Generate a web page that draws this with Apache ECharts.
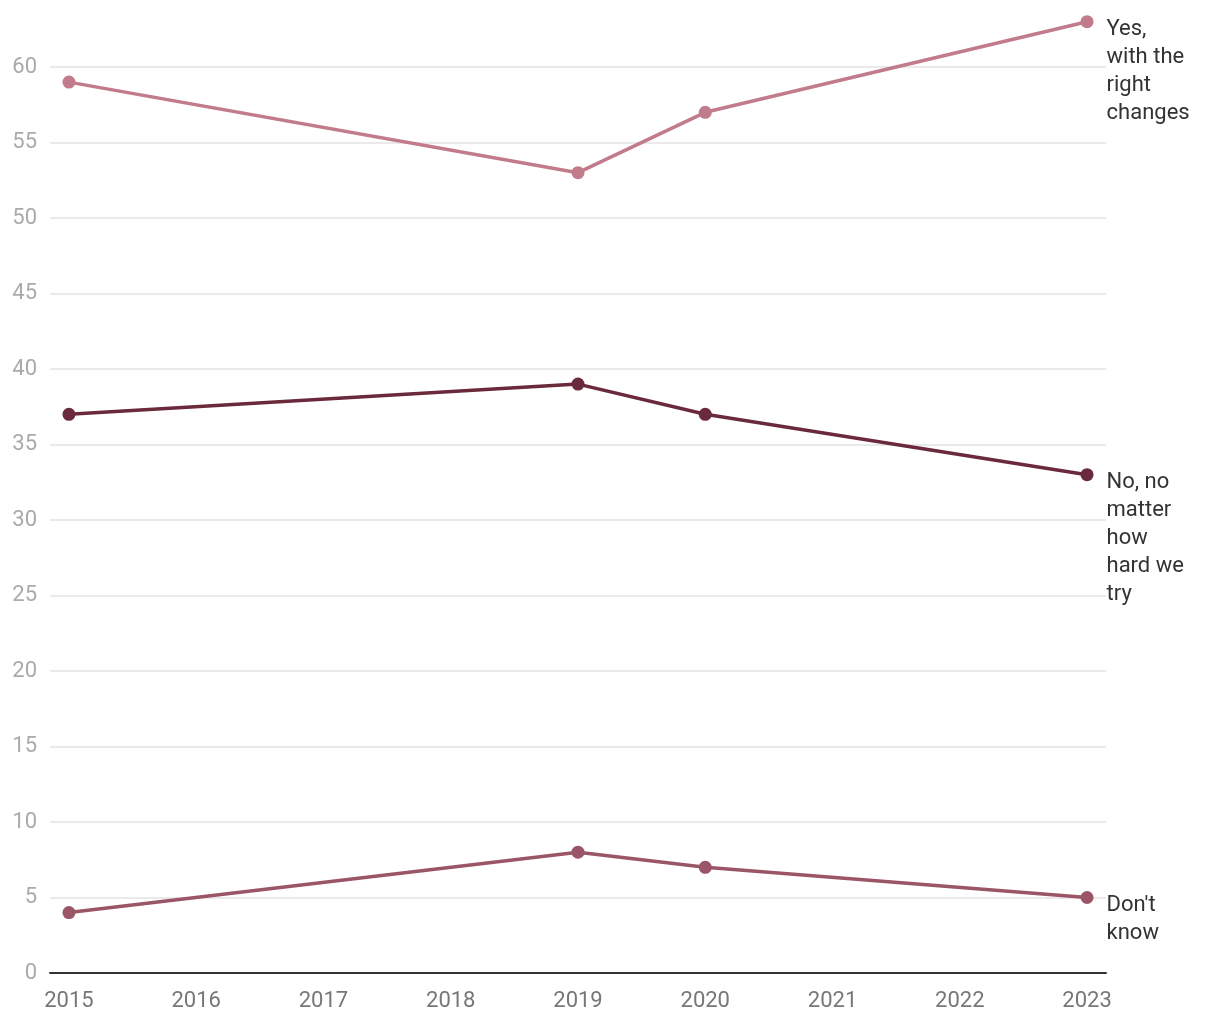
<!DOCTYPE html>
<html>
<head>
<meta charset="utf-8">
<script src="https://cdn.jsdelivr.net/npm/echarts@6/dist/echarts.min.js"></script>
<style>
html,body{margin:0;padding:0;background:#fff;}
#chart{width:1220px;height:1020px;}
</style>
</head>
<body>
<div id="chart"></div>
<script>
const years = [2015, 2019, 2020, 2023];
const yesValues = [59, 53, 57, 63];
const noValues = [37, 39, 37, 33];
const dkValues = [4, 8, 7, 5];
const seriesNames = ["Yes,\nwith the\nright\nchanges", "No, no\nmatter\nhow\nhard we\ntry", "Don't\nknow"];
const xTickYears = [2015, 2016, 2017, 2018, 2019, 2020, 2021, 2022, 2023];
const colors = ["#c27b8b", "#6a2a3b", "#9a5567"];
const FONT = "Roboto, 'Noto Sans', sans-serif";

function mkSeries(name, vals, color) {
  const data = vals.map((v, i) => {
    const item = { value: [years[i], v] };
    if (i === vals.length - 1) {
      item.label = {
        show: true,
        position: 'right',
        distance: 13,
        verticalAlign: 'top',
        align: 'left',
        offset: [0, -6],
        formatter: name,
        color: '#333',
        fontSize: 22,
        lineHeight: 28,
        fontFamily: FONT
      };
    }
    return item;
  });
  return {
    type: 'line',
    name: name,
    data: data,
    clip: false,
    symbol: 'circle',
    symbolSize: 13,
    lineStyle: { color: color, width: 3.5 },
    itemStyle: { color: color },
    label: { show: false },
    emphasis: { disabled: true },
    animation: false
  };
}

const chart = echarts.init(document.getElementById('chart'));
chart.setOption({
  backgroundColor: '#fff',
  animation: false,
  grid: { left: 50, right: 114, top: 67, bottom: 47, containLabel: false },
  xAxis: {
    type: 'value',
    min: 2014.851,
    max: 2023.149,
    axisLine: { show: true, lineStyle: { color: '#333', width: 2 } },
    axisTick: { show: false },
    splitLine: { show: false },
    axisLabel: {
      customValues: xTickYears,
      formatter: v => String(v),
      color: '#777',
      fontSize: 22,
      fontFamily: FONT,
      margin: 17
    }
  },
  yAxis: {
    type: 'value',
    min: 0,
    max: 60,
    interval: 5,
    axisLine: { show: false },
    axisTick: { show: false },
    splitLine: { show: true, lineStyle: { color: '#e3e3e3', width: 1.5 } },
    axisLabel: { color: '#aaa', fontSize: 22, fontFamily: FONT, margin: 13 }
  },
  series: [
    mkSeries(seriesNames[0], yesValues, colors[0]),
    mkSeries(seriesNames[1], noValues, colors[1]),
    mkSeries(seriesNames[2], dkValues, colors[2])
  ]
});
</script>
</body>
</html>
